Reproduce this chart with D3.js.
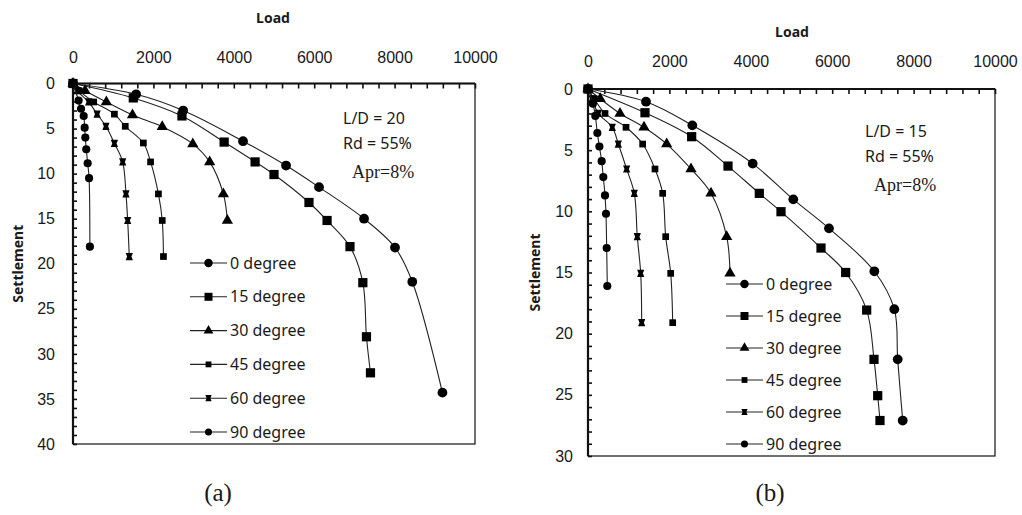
<!DOCTYPE html>
<html>
<head>
<meta charset="utf-8">
<script src="https://cdn.jsdelivr.net/npm/d3@7"></script>
<style>
  body { margin: 0; background: #fff; }
  svg { display: block; font-family: "Noto Sans", "Open Sans", sans-serif; }
  text { fill: #1a1a1a; }
</style>
</head>
<body>
<svg id="chart" width="1022" height="515"></svg>
<script>
// series names (legend order)
let degrees = ["0 degree", "15 degree", "30 degree", "45 degree", "60 degree", "90 degree"];
let loadTicks = [0, 2000, 4000, 6000, 8000, 10000];

// panel (a): L/D = 20, [load, settlement]
let a0 = [[0,0],[1570,1.2],[2740,3.0],[4230,6.4],[5300,9.1],[6120,11.5],[7240,15],[8010,18.2],[8440,22],[9190,34.3]];
let a15 = [[0,0],[1500,1.6],[2710,3.6],[3760,6.5],[4530,8.7],[5000,10.1],[5870,13.2],[6320,15.2],[6890,18.1],[7210,22.1],[7300,28.1],[7400,32.1]];
let a30 = [[0,0],[300,0.8],[830,2.05],[1480,3.5],[2220,4.8],[2980,6.7],[3400,8.7],[3740,12.25],[3840,15.2]];
let a45 = [[0,0],[150,0.8],[515,2.05],[1030,3.4],[1300,4.75],[1750,6.6],[1930,8.7],[2125,12.25],[2220,15.2],[2250,19.2]];
let a60 = [[0,0],[100,0.8],[390,2.05],[600,3.4],[820,4.75],[1030,6.65],[1236,8.7],[1318,12.25],[1360,15.2],[1400,19.2]];
let a90 = [[0,0],[140,1.9],[200,2.8],[266,3.6],[290,4.9],[306,6.0],[330,7.3],[365,8.85],[400,10.5],[420,18.1]];

// panel (b): L/D = 15
let b0 = [[0,0],[1425,1.04],[2563,2.97],[4046,6.1],[5044,9.02],[5921,11.39],[7035,14.9],[7526,18.0],[7609,22.1],[7732,27.1]];
let b15 = [[0,0],[1400,1.94],[2547,3.9],[3440,6.3],[4209,8.53],[4742,10.03],[5725,13.0],[6331,15.0],[6847,18.07],[7027,22.1],[7118,25.07],[7174,27.1]];
let b30 = [[0,0],[300,0.8],[786,2.0],[1376,3.13],[1933,4.5],[2531,6.54],[3022,8.53],[3407,12.07],[3489,15.07]];
let b45 = [[0,0],[150,0.8],[418,2.0],[934,3.13],[1343,4.5],[1646,6.54],[1835,8.53],[1909,12.07],[2032,15.07],[2081,19.1]];
let b60 = [[0,0],[100,0.8],[253,2.0],[597,3.13],[745,4.5],[950,6.54],[1138,8.53],[1211,12.07],[1295,15.07],[1319,19.1]];
let b90 = [[0,0],[120,1.2],[180,2.2],[230,3.6],[280,4.7],[336,5.9],[376,7.2],[418,8.7],[442,10.2],[459,13],[474,16.1]];

let svg = d3.select("#chart");
let serif = "'Liberation Serif', 'Times New Roman', serif";

// pinched square, looks like the excel "star" marker at this size
let pinched = {
  draw(ctx, size) {
    let r = Math.sqrt(size) / 2;
    ctx.moveTo(-r, -r); ctx.lineTo(r, -r); ctx.lineTo(r * 0.6, 0);
    ctx.lineTo(r, r); ctx.lineTo(-r, r); ctx.lineTo(-r * 0.6, 0);
    ctx.closePath();
  }
};
let markers = [
  {type: d3.symbolCircle, size: 75},
  {type: d3.symbolSquare, size: 85},
  {type: d3.symbolTriangle, size: 55},
  {type: d3.symbolSquare, size: 45},
  {type: pinched, size: 52},
  {type: d3.symbolCircle, size: 52}
];

function drawPanel(cfg) {
  let g = svg.append("g");
  let x = d3.scaleLinear().domain([0, 10000]).range([cfg.left, cfg.right]);
  let y = d3.scaleLinear().domain([0, cfg.yMax]).range([cfg.top, cfg.bottom]);

  // plot border (thin right / bottom)
  g.append("rect")
    .attr("x", cfg.left).attr("y", cfg.top)
    .attr("width", cfg.right - cfg.left).attr("height", cfg.bottom - cfg.top)
    .attr("fill", "none").attr("stroke", "#111").attr("stroke-width", 1.2);

  // top axis labels
  g.append("g")
    .attr("transform", `translate(0,${cfg.top})`)
    .call(d3.axisTop(x).tickValues(loadTicks).tickSize(0).tickPadding(cfg.xPad).tickFormat(d3.format("d")))
    .call(a => a.select(".domain").remove())
    .selectAll("text").attr("font-size", 16).attr("font-family", null).attr("fill", "#1a1a1a");

  // minor + major ticks pointing inside
  g.append("g")
    .attr("transform", `translate(0,${cfg.top})`)
    .call(d3.axisBottom(x).tickValues(d3.range(0, 10001, 400)).tickSize(5).tickFormat(""))
    .call(a => a.select(".domain").remove())
    .selectAll("line").attr("stroke", "#111").attr("stroke-width", 1.6);

  g.append("g")
    .attr("transform", `translate(${cfg.left},0)`)
    .call(d3.axisLeft(y).tickValues(d3.range(0, cfg.yMax + 1, 5)).tickSize(0).tickPadding(cfg.yPad))
    .call(a => a.select(".domain").remove())
    .selectAll("text").attr("font-size", 16).attr("font-family", null).attr("fill", "#1a1a1a");

  g.append("g")
    .attr("transform", `translate(${cfg.left},0)`)
    .call(d3.axisRight(y).tickValues(d3.range(0, cfg.yMax + 1, 1)).tickSize(4).tickFormat(""))
    .call(a => a.select(".domain").remove())
    .selectAll("line").attr("stroke", "#111").attr("stroke-width", 1.6);

  // heavier top and left axis lines
  g.append("line").attr("x1", cfg.left).attr("x2", cfg.right).attr("y1", cfg.top).attr("y2", cfg.top)
    .attr("stroke", "#111").attr("stroke-width", 2.2);
  g.append("line").attr("x1", cfg.left).attr("x2", cfg.left).attr("y1", cfg.top).attr("y2", cfg.bottom)
    .attr("stroke", "#111").attr("stroke-width", 2.2);

  // axis titles
  g.append("text")
    .attr("x", cfg.loadX).attr("y", cfg.loadY)
    .attr("text-anchor", "middle").attr("font-size", 14).attr("font-weight", "bold")
    .text("Load");
  g.append("text")
    .attr("transform", `translate(${cfg.settleX},${(cfg.top + cfg.bottom) / 2}) rotate(-90)`)
    .attr("text-anchor", "middle").attr("font-size", 14).attr("font-weight", "bold")
    .text("Settlement");

  // curves
  let line = d3.line()
    .x(d => x(d[0])).y(d => y(d[1]))
    .curve(d3.curveCatmullRom.alpha(0.5));

  cfg.series.forEach((s, i) => {
    g.append("path")
      .datum(s)
      .attr("d", line)
      .attr("fill", "none").attr("stroke", "#222").attr("stroke-width", 1.1);
    g.append("g").selectAll("path")
      .data(s)
      .join("path")
      .attr("transform", d => `translate(${x(d[0])},${y(d[1])})`)
      .attr("d", d3.symbol().type(markers[i].type).size(markers[i].size))
      .attr("fill", "#000");
  });

  // legend
  let leg = g.append("g")
    .selectAll("g")
    .data(degrees)
    .join("g")
    .attr("transform", (d, i) => `translate(${cfg.legX},${cfg.legY + i * cfg.legStep})`);
  leg.append("line").attr("x1", 0).attr("x2", 37).attr("stroke", "#222").attr("stroke-width", 1.1);
  leg.append("path")
    .attr("transform", "translate(18.5,0)")
    .attr("d", (d, i) => d3.symbol().type(markers[i].type).size(markers[i].size * 0.75)())
    .attr("fill", "#000");
  leg.append("text")
    .attr("x", 40).attr("dy", "0.35em").attr("font-size", 16)
    .text(d => d);

  // annotations
  g.append("text").attr("x", cfg.noteX).attr("y", cfg.noteY).attr("font-size", 16).text(cfg.ld);
  g.append("text").attr("x", cfg.noteX).attr("y", cfg.noteY + 25).attr("font-size", 16).text("Rd = 55%");
  g.append("text").attr("x", cfg.noteX + 9).attr("y", cfg.noteY + 54)
    .attr("font-size", 18).style("font-family", serif).text("Apr=8%");

  g.append("text").attr("x", cfg.capX).attr("y", 501)
    .attr("text-anchor", "middle").attr("font-size", 25)
    .style("font-family", serif).text(cfg.caption);
}

drawPanel({
  left: 73, right: 475, top: 83.5, bottom: 444, yMax: 40,
  xPad: 21, yPad: 18, loadX: 273, loadY: 23, settleX: 23,
  series: [a0, a15, a30, a45, a60, a90],
  legX: 190, legY: 263, legStep: 33.8,
  noteX: 343, noteY: 124, ld: "L/D = 20",
  capX: 218, caption: "(a)"
});

drawPanel({
  left: 588, right: 995, top: 89, bottom: 456, yMax: 30,
  xPad: 22, yPad: 15, loadX: 792, loadY: 37, settleX: 540,
  series: [b0, b15, b30, b45, b60, b90],
  legX: 726, legY: 284, legStep: 32,
  noteX: 865, noteY: 137, ld: "L/D = 15",
  capX: 770, caption: "(b)"
});
</script>
</body>
</html>
